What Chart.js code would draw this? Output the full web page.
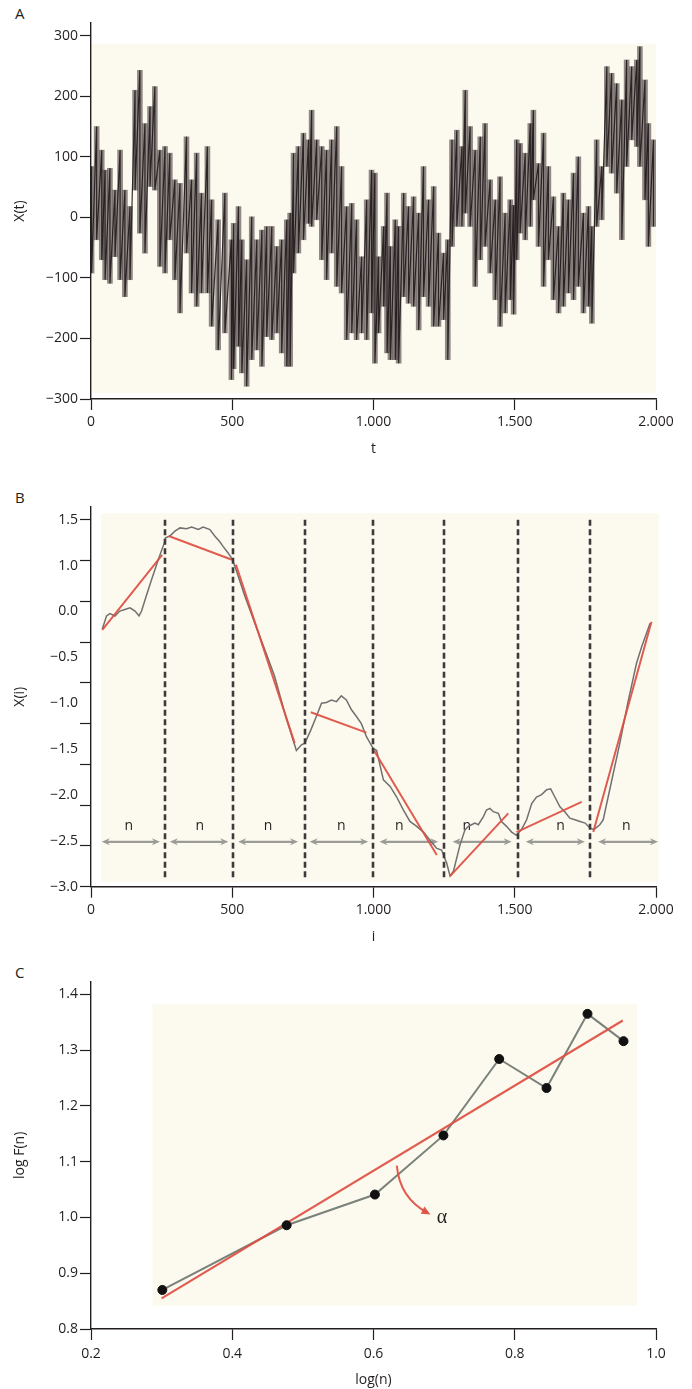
<!DOCTYPE html>
<html lang="en">
<head>
<meta charset="UTF-8" />
<title>DFA panels</title>
<style>
  body { margin: 0; width: 692px; height: 1389px; background: #fff; position: relative;
         font-family: "Open Sans", "Noto Sans", sans-serif; color: #231f20; }
  .panel { position: absolute; left: 0; }
  .tag { position: absolute; left: 15px; font-size: 15px; line-height: 18px; }
  canvas { display: block; }
</style>
</head>
<body>
  <div class="tag" style="top:4px">A</div>
  <div class="tag" style="top:488px">B</div>
  <div class="tag" style="top:963px">C</div>
  <div class="panel" style="top:0"><canvas id="chartA" width="692" height="470"></canvas></div>
  <div class="panel" style="top:470px"><canvas id="chartB" width="692" height="480"></canvas></div>
  <div class="panel" style="top:950px"><canvas id="chartC" width="692" height="439"></canvas></div>

<script src="https://cdn.jsdelivr.net/npm/chart.js"></script>
<script>
// ---- panel A: raw series X(t), read as upper / lower excursion at each t ----
const tA = [2,20,38,50,67,85,103,120,138,156,173,191,209,226,244,262,279,297,315,338,
  356,374,391,412,427,450,474,497,505,522,534,551,569,587,605,622,640,658,675,693,
  705,717,734,752,770,781,799,817,834,852,870,887,905,923,940,958,976,993,1005,1018,
  1036,1048,1060,1077,1089,1107,1124,1142,1160,1177,1195,1213,1230,1248,1263,1278,1295,1313,1325,1342,
  1360,1378,1395,1413,1431,1448,1466,1484,1496,1507,1519,1537,1555,1566,1584,1602,1619,1637,1655,1672,
  1690,1708,1725,1743,1761,1773,1790,1808,1826,1843,1861,1879,1896,1914,1932,1943,1961,1973,1991];
const hiA = [84,150,111,78,81,45,111,45,18,210,243,155,183,216,111,117,106,62,56,133,
  62,106,40,117,29,-4,40,-37,-10,18,-37,-70,1,-37,-21,-15,-15,-48,-37,-4,
  7,106,117,139,128,177,128,117,111,128,150,84,18,23,-4,-65,29,78,73,-65,
  -15,40,-48,-4,-15,40,18,34,7,84,29,51,-26,-59,-37,128,144,117,210,150,
  111,133,155,62,29,67,7,29,20,128,122,106,155,177,89,139,84,34,-15,40,
  29,73,100,7,18,-15,128,84,249,238,221,194,260,249,260,282,227,155,128];
const loA = [-92,-37,-70,-103,-109,-65,-103,-131,-103,45,-26,-59,51,45,-81,-92,-37,-103,-158,-59,
  -125,-147,-125,-125,-180,-219,-191,-268,-250,-213,-257,-279,-235,-219,-246,-197,-202,-191,-224,-246,
  -246,-92,-59,-37,-10,-15,-4,-70,-103,-59,-114,-125,-202,-191,-202,-191,-202,-158,-241,-191,
  -147,-224,-235,-235,-241,-131,-142,-147,-186,-131,-147,-180,-180,-169,-235,-48,-15,-15,7,-15,
  -114,-70,-48,-92,-136,-180,-158,-136,-160,-70,-26,-37,-15,29,-48,-114,-70,-136,-158,-147,
  -125,-136,-114,-158,-147,-175,-15,-4,84,73,40,-37,84,128,117,84,29,-48,-15];
const xTicksA = [0, 500, 1000, 1500, 2000];
const xLabelsA = ['0', '500', '1.000', '1.500', '2.000'];
const yTicksA = [-300, -200, -100, 0, 100, 200, 300];
const yLabelsA = ['−300', '−200', '−100', '0', '100', '200', '300'];

// ---- panel B: integrated profile X(i) and local linear fits ----
const iB = [40,55,67,85,102,120,138,156,170,179,197,214,238,259,264,279,297,315,338,356,
  380,397,421,438,456,468,486,501,515,545,580,615,650,690,727,745,757,778,798,816,
  833,851,869,886,904,922,939,957,975,998,1011,1035,1059,1082,1106,1129,1153,1177,1200,1224,
  1241,1259,1271,1283,1306,1324,1336,1347,1359,1371,1389,1400,1412,1424,1442,1453,1471,1489,1506,1524,
  1542,1560,1577,1595,1613,1627,1642,1660,1677,1695,1713,1731,1749,1766,1780,1801,1813,1840,1872,1900,
  1931,1949,1979];
const xB = [0.16,0.32,0.35,0.32,0.38,0.40,0.42,0.38,0.32,0.38,0.58,0.76,1.01,1.21,1.28,1.30,1.36,1.40,1.39,1.41,
  1.38,1.41,1.38,1.30,1.23,1.17,1.09,1.01,0.87,0.56,0.23,-0.09,-0.42,-0.92,-1.33,-1.26,-1.24,-1.08,-0.91,-0.75,
  -0.74,-0.71,-0.73,-0.66,-0.71,-0.83,-0.91,-1.00,-1.16,-1.30,-1.33,-1.69,-1.77,-1.90,-2.06,-2.20,-2.26,-2.33,-2.43,-2.53,
  -2.55,-2.71,-2.87,-2.81,-2.49,-2.30,-2.26,-2.24,-2.22,-2.24,-2.14,-2.06,-2.04,-2.08,-2.10,-2.20,-2.26,-2.33,-2.37,-2.30,
  -2.18,-1.98,-1.90,-1.87,-1.81,-1.80,-1.90,-2.02,-2.08,-2.16,-2.18,-2.20,-2.22,-2.28,-2.30,-2.24,-2.18,-1.75,-1.24,-0.75,
  -0.26,-0.06,0.23];
const fitStartI = [40, 275, 513, 778, 1002, 1271, 1506, 1778];
const fitEndI = [252, 499, 721, 975, 1224, 1477, 1737, 1984];
const fitStartX = [0.15, 1.30, 0.95, -0.86, -1.33, -2.87, -2.33, -2.33];
const fitEndX = [1.07, 1.01, -1.24, -1.11, -2.61, -2.10, -1.96, 0.25];
const boxEdgesB = [262, 501, 757, 998, 1249, 1510, 1766];
const spanFromB = [38, 279, 521, 774, 1021, 1280, 1539, 1795];
const spanToB = [244, 486, 733, 981, 1229, 1489, 1748, 2007];
const spanTextAtB = [134, 385, 627, 886, 1091, 1330, 1662, 1895];
const xTicksB = [0, 500, 1000, 1500, 2000];
const xLabelsB = ['0', '500', '1.000', '1.500', '2.000'];
const yMarksB = [-3, -2.5, -2, -1.5, -1, -0.5, 0, 0.5, 1, 1.5];
const yLabelAtB = [-3, -2.4375, -1.875, -1.3125, -0.75, -0.1875, 0.375, 0.9375, 1.5];
const yLabelsB = ['−3.0', '−2.5', '−2.0', '−1.5', '−1.0', '−0.5', '0.0', '1.0', '1.5'];

// ---- panel C: log F(n) vs log(n) ----
const logN = [0.301, 0.477, 0.602, 0.699, 0.778, 0.845, 0.903, 0.954];
const logF = [0.870, 0.986, 1.041, 1.147, 1.284, 1.232, 1.365, 1.316];
const fitC_x = [0.30, 0.953];
const fitC_y = [0.855, 1.353];
const xTicksC = [0.2, 0.4, 0.6, 0.8, 1.0];
const xLabelsC = ['0.2', '0.4', '0.6', '0.8', '1.0'];
const yTicksC = [0.8, 0.9, 1.0, 1.1, 1.2, 1.3, 1.4];
const yLabelsC = ['0.8', '0.9', '1.0', '1.1', '1.2', '1.3', '1.4'];

const INK = '#231f20';
const PAPER = '#fcfaee';
const RED = 'rgba(222, 78, 66, 0.92)';

Chart.defaults.font.family = "'Open Sans', 'Noto Sans', sans-serif";
Chart.defaults.font.size = 14;
Chart.defaults.color = INK;
Chart.defaults.animation = false;
Chart.defaults.plugins.legend.display = false;
Chart.defaults.plugins.tooltip.enabled = false;

const near = (a, b) => Math.abs(a - b) < 1e-6;

function paper(x0, x1, y0, y1) {
  return {
    id: 'paper',
    beforeDraw(chart) {
      const { ctx, scales: { x, y } } = chart;
      const l = x.getPixelForValue(x0), r = x.getPixelForValue(x1);
      const t = y.getPixelForValue(y1), b = y.getPixelForValue(y0);
      ctx.save();
      ctx.fillStyle = PAPER;
      ctx.fillRect(l, t, r - l, b - t);
      ctx.restore();
    }
  };
}

function xAxis(min, max, ticks, labels, title, h, labelPad, titlePad) {
  return {
    type: 'linear', min, max, offset: false,
    afterBuildTicks: s => { s.ticks = ticks.map(v => ({ value: v })); },
    afterFit: s => { s.height = h; },
    grid: { display: true, offset: false, drawOnChartArea: false, drawTicks: true, tickLength: 11, tickColor: INK, tickWidth: 1.2 },
    border: { display: true, color: INK, width: 1.4 },
    ticks: { autoSkip: false, maxRotation: 0, padding: labelPad, color: INK,
             callback: (v) => labels[ticks.findIndex(a => near(a, v))] },
    title: { display: true, text: title, color: INK, font: { size: 14 }, padding: { top: 0, bottom: titlePad } }
  };
}

function yAxis(min, max, ticks, labelFor, title, tickColor) {
  return {
    type: 'linear', min, max,
    afterBuildTicks: s => { s.ticks = ticks.map(v => ({ value: v })); },
    afterFit: s => { s.width = 91; },
    grid: { display: true, drawOnChartArea: false, drawTicks: true, tickLength: 11, tickColor: tickColor || INK, tickWidth: 1.2 },
    border: { display: true, color: INK, width: 1.4 },
    ticks: { autoSkip: false, padding: 2, color: INK, callback: labelFor },
    title: { display: true, text: title, color: INK, font: { size: 14 }, padding: { top: 11.6, bottom: 0 } }
  };
}

// ---------- A ----------
const ptsA = [];
tA.forEach((t, k) => { ptsA.push({ x: t, y: hiA[k] }); ptsA.push({ x: t, y: loA[k] }); });
const barsA = tA.map((t, k) => ({ x: t, y: [loA[k], hiA[k]] }));

new Chart(document.getElementById('chartA'), {
  type: 'scatter',
  data: { datasets: [
    { type: 'line', data: ptsA, pointRadius: 0, borderColor: 'rgba(30, 22, 24, 0.88)', borderWidth: 1.2, tension: 0, order: 0 },
    { type: 'bar', data: barsA, backgroundColor: 'rgba(72, 62, 64, 0.6)', barThickness: 5, grouped: false, order: 1 }
  ] },
  options: {
    responsive: false, devicePixelRatio: 1,
    layout: { padding: { top: 23, right: 36, left: 0, bottom: 0 } },
    scales: {
      x: xAxis(0, 2000, xTicksA, xLabelsA, 't', 71, 4, 12.6),
      y: yAxis(-300, 321, yTicksA, (v) => yLabelsA[yTicksA.findIndex(a => near(a, v))], 'X(t)')
    }
  },
  plugins: [paper(0, 2000, -290, 287)]
});

// ---------- B ----------
const ptsB = iB.map((v, k) => ({ x: v, y: xB[k] }));
const fitPts = [];
fitStartI.forEach((v, k) => {
  fitPts.push({ x: v, y: fitStartX[k] }, { x: fitEndI[k], y: fitEndX[k] }, { x: fitEndI[k], y: null });
});
const tickValsB = yMarksB.concat(yLabelAtB.filter(v => !yMarksB.some(m => near(m, v)))).sort((a, b) => a - b);

function arrowHead(ctx, x, y, dir, len, half) {
  ctx.beginPath();
  ctx.moveTo(x, y);
  ctx.lineTo(x - dir * len, y - half);
  ctx.lineTo(x - dir * len * 0.7, y);
  ctx.lineTo(x - dir * len, y + half);
  ctx.closePath();
  ctx.fill();
}

const segmentsB = {
  id: 'segmentsB',
  beforeDatasetsDraw(chart) {
    const { ctx, scales: { x, y } } = chart;
    ctx.save();
    ctx.strokeStyle = '#9b9b97';
    ctx.fillStyle = '#9b9b97';
    ctx.lineWidth = 2.2;
    const ya = y.getPixelForValue(-2.45);
    spanFromB.forEach((s, k) => {
      const a = x.getPixelForValue(s), b = x.getPixelForValue(spanToB[k]);
      ctx.beginPath(); ctx.moveTo(a + 4, ya); ctx.lineTo(b - 4, ya); ctx.stroke();
      arrowHead(ctx, a, ya, -1, 8, 3.5);
      arrowHead(ctx, b, ya, 1, 8, 3.5);
    });
    ctx.fillStyle = INK;
    ctx.font = "14px 'Open Sans', sans-serif";
    ctx.textAlign = 'center';
    ctx.textBaseline = 'middle';
    const yn = y.getPixelForValue(-2.25);
    spanTextAtB.forEach(v => ctx.fillText('n', x.getPixelForValue(v), yn));
    ctx.restore();
  },
  afterDatasetsDraw(chart) {
    const { ctx, scales: { x, y } } = chart;
    ctx.save();
    ctx.strokeStyle = '#3b3b3b';
    ctx.lineWidth = 2.6;
    ctx.setLineDash([6, 3.5]);
    const top = y.getPixelForValue(1.5), bot = y.getPixelForValue(-2.9);
    boxEdgesB.forEach(v => {
      const px = Math.round(x.getPixelForValue(v));
      ctx.beginPath(); ctx.moveTo(px, top); ctx.lineTo(px, bot); ctx.stroke();
    });
    ctx.restore();
  }
};

new Chart(document.getElementById('chartB'), {
  type: 'scatter',
  data: { datasets: [
    { data: fitPts, showLine: true, spanGaps: false, pointRadius: 0, borderColor: RED, borderWidth: 2, order: 0 },
    { data: ptsB, showLine: true, pointRadius: 0, borderColor: '#707070', borderWidth: 1.5, order: 1 }
  ] },
  options: {
    responsive: false, devicePixelRatio: 1,
    layout: { padding: { top: 36.7, right: 36, left: 0, bottom: 0 } },
    scales: {
      x: xAxis(0, 2000, xTicksB, xLabelsB, 'i', 63.3, 4, 4.6),
      y: yAxis(-3, 1.66, tickValsB, (v) => {
        const k = yLabelAtB.findIndex(a => near(a, v));
        return k < 0 ? '' : yLabelsB[k];
      }, 'X(i)', (c) => (c.tick && yMarksB.some(m => near(m, c.tick.value))) ? INK : 'rgba(0,0,0,0)')
    }
  },
  plugins: [paper(35, 2010, -2.94, 1.58), segmentsB]
});

// ---------- C ----------
const ptsC = logN.map((v, k) => ({ x: v, y: logF[k] }));
const fitC = fitC_x.map((v, k) => ({ x: v, y: fitC_y[k] }));

const alphaNote = {
  id: 'alphaNote',
  afterDatasetsDraw(chart) {
    const { ctx, scales: { x, y } } = chart;
    const p0 = [x.getPixelForValue(0.633), y.getPixelForValue(1.093)];
    const pc = [x.getPixelForValue(0.637), y.getPixelForValue(1.035)];
    const p1 = [x.getPixelForValue(0.677), y.getPixelForValue(1.008)];
    ctx.save();
    ctx.strokeStyle = RED;
    ctx.fillStyle = RED;
    ctx.lineWidth = 2;
    ctx.beginPath();
    ctx.moveTo(p0[0], p0[1]);
    ctx.quadraticCurveTo(pc[0], pc[1], p1[0], p1[1]);
    ctx.stroke();
    const ang = Math.atan2(p1[1] - pc[1], p1[0] - pc[0]);
    ctx.translate(p1[0], p1[1]);
    ctx.rotate(ang);
    ctx.beginPath();
    ctx.moveTo(3, 0); ctx.lineTo(-6, -4); ctx.lineTo(-6, 4); ctx.closePath();
    ctx.fill();
    ctx.restore();
    ctx.save();
    ctx.fillStyle = INK;
    ctx.font = "20px 'Liberation Serif', 'DejaVu Serif', serif";
    ctx.textAlign = 'center';
    ctx.textBaseline = 'middle';
    ctx.fillText('α', x.getPixelForValue(0.697), y.getPixelForValue(0.999));
    ctx.restore();
  }
};

new Chart(document.getElementById('chartC'), {
  type: 'scatter',
  data: { datasets: [
    { data: ptsC, showLine: false, pointRadius: 4.5, pointBackgroundColor: '#111', pointBorderColor: '#111', order: 0 },
    { data: fitC, showLine: true, pointRadius: 0, borderColor: RED, borderWidth: 2.2, order: 1 },
    { data: ptsC, showLine: true, pointRadius: 0, borderColor: '#7b827b', borderWidth: 2, order: 2 }
  ] },
  options: {
    responsive: false, devicePixelRatio: 1,
    layout: { padding: { top: 31.7, right: 36, left: 0, bottom: 0 } },
    scales: {
      x: xAxis(0.2, 1.0, xTicksC, xLabelsC, 'log(n)', 60, 6, 0.6),
      y: yAxis(0.8, 1.4226, yTicksC, (v) => yLabelsC[yTicksC.findIndex(a => near(a, v))], 'log F(n)')
    }
  },
  plugins: [paper(0.287, 0.973, 0.842, 1.383), alphaNote]
});
</script>
</body>
</html>
